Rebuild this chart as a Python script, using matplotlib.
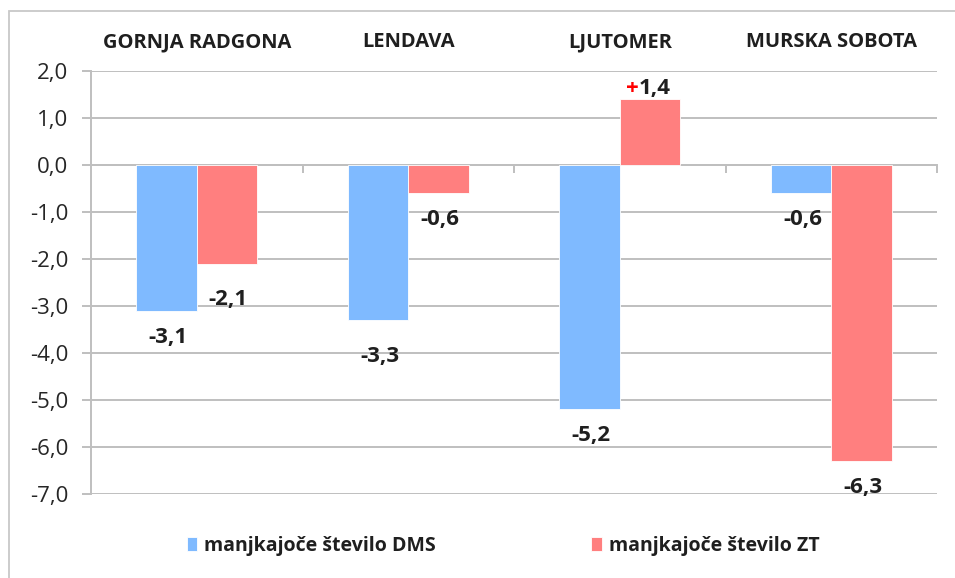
import matplotlib.pyplot as plt
import numpy as np
from matplotlib.patches import Rectangle

# data
cities = ["GORNJA RADGONA", "LENDAVA", "LJUTOMER", "MURSKA SOBOTA"]
dms = [-3.1, -3.3, -5.2, -0.6]
zt = [-2.1, -0.6, 1.4, -6.3]
series_names = ["manjkajoče število DMS", "manjkajoče število ZT"]
yticks = np.arange(-7, 2.1, 1)

blue = "#7FBAFF"
red = "#FF7F7F"
txt = "#1F1F1F"
grid = "#BFBFBF"

plt.rcParams["font.family"] = ["Open Sans", "DejaVu Sans"]

fig = plt.figure(figsize=(9.55, 5.78), dpi=100)
W, H = 955, 578
ax = fig.add_axes([91 / W, 1 - 494 / H, (937 - 91) / W, (494 - 71) / H])

# outer chart border (only top and left visible in the crop)
fig.patches.append(Rectangle((9 / W, -0.1), 1.2, 1 - 11 / H + 0.1, transform=fig.transFigure,
                             fill=False, edgecolor="#C8C8C8", linewidth=1.3))

x = np.arange(len(cities))
w = 0.285
b1 = ax.bar(x - w / 2, dms, w, color=blue, edgecolor="white", linewidth=0.6,
            label=series_names[0], zorder=3)
b2 = ax.bar(x + w / 2, zt, w, color=red, edgecolor="white", linewidth=0.6,
            label=series_names[1], zorder=3)

ax.set_xlim(-0.5, len(cities) - 0.5)
ax.set_ylim(-7, 2)
ax.set_yticks(yticks)
ax.set_yticklabels([f"{v:.1f}".replace(".", ",") for v in yticks])
ax.yaxis.grid(True, color=grid, linewidth=1.4, zorder=0)
ax.set_axisbelow(True)

for s in ["top", "right"]:
    ax.spines[s].set_visible(False)
ax.spines["left"].set_color(grid)
ax.spines["left"].set_linewidth(1.4)
ax.spines["bottom"].set_position(("data", 0))
ax.spines["bottom"].set_color(grid)
ax.spines["bottom"].set_linewidth(1.4)
ax.spines["bottom"].set_zorder(2)

ax.tick_params(axis="y", length=6.5, width=1.4, color=grid, pad=10,
               labelsize=16, labelcolor="#262626")
ax.set_xticks(x)
ax.set_xticklabels(cities, fontweight="bold", fontsize=14.5, color=txt)
ax.set_xticks(np.arange(len(cities)) + 0.5, minor=True)
ax.tick_params(axis="x", which="major", bottom=False, top=False,
               labelbottom=False, labeltop=True, pad=10)
ax.tick_params(axis="x", which="minor", bottom=True, top=False, direction="out",
               length=6, width=1.4, color=grid)

# value labels
extra = {(0, 1): -7, (1, 0): -7}
for si, (bars, vals) in enumerate([(b1, dms), (b2, zt)]):
    for ci, (bar, v) in enumerate(zip(bars, vals)):
        cx = bar.get_x() + bar.get_width() / 2
        lab = f"{abs(v):.1f}".replace(".", ",")
        if v < 0:
            dy = -19 + extra.get((ci, si), 0)
            ax.annotate("-" + lab, (cx, v), xytext=(1, dy), textcoords="offset points",
                        ha="center", va="center", fontsize=16, fontweight="bold", color=txt)
        else:
            t = ax.annotate(lab, (cx, v), xytext=(-8, 0), textcoords="offset points",
                            ha="left", va="bottom", fontsize=16, fontweight="bold", color=txt)
            ax.annotate("+", (0, 0), xycoords=t, xytext=(0, 0), textcoords="offset points",
                        ha="right", va="bottom", fontsize=16, fontweight="bold", color="#FF0000")

fig.legend(handles=[b1, b2], labels=series_names, loc="center", ncol=2,
           bbox_to_anchor=(503 / W, 1 - 546 / H), frameon=False,
           prop={"weight": "bold", "size": 14}, labelcolor=txt,
           handlelength=0.55, handleheight=0.75, handletextpad=0.35, columnspacing=8.0)

fig.savefig("out.png", dpi=100)
